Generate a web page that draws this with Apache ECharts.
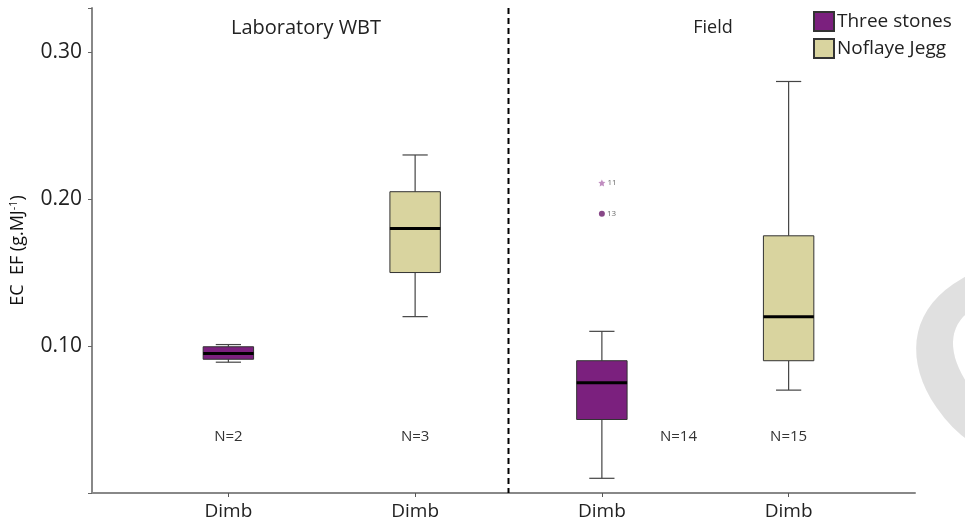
<!DOCTYPE html>
<html>
<head>
<meta charset="utf-8">
<script src="https://cdn.jsdelivr.net/npm/echarts@6/dist/echarts.min.js"></script>
<style>html,body{margin:0;padding:0;background:#fff}#c{width:965px;height:532px}</style>
</head>
<body>
<div id="c"></div>
<script>
// ---- data ----
const categories = ['Dimb', 'Dimb', 'Dimb', 'Dimb'];
const groupNames = ['Three stones', 'Noflaye Jegg'];
const panelTitles = ['Laboratory WBT', 'Field'];
// [categoryIndex, min, q1, median, q3, max]
const threeStonesBoxes = [
  [0, 0.089, 0.091, 0.095, 0.0995, 0.101],
  [2, 0.010, 0.050, 0.075, 0.090, 0.110]
];
const noflayeBoxes = [
  [1, 0.120, 0.150, 0.180, 0.205, 0.230],
  [3, 0.070, 0.090, 0.120, 0.175, 0.280]
];
// outliers: [categoryIndex, value]
const outlierValues = [[2, 0.211], [2, 0.190]];
const outlierIds = ['11', '13'];
const sampleSizes = [2, 3, 14, 15];
// divider between the two panels: between categories 1 and 2
const dividerBetween = [[1, 2]];

const COL_TS = '#7b207e';
const COL_NJ = '#d9d49f';
const FONT = '"Open Sans", sans-serif';

const chart = echarts.init(document.getElementById('c'), null, {renderer: 'canvas'});

function boxRenderer(color) {
  return function (params, api) {
    const x = api.value(0);
    const lo = api.coord([x, api.value(1)]);
    const q1 = api.coord([x, api.value(2)]);
    const med = api.coord([x, api.value(3)]);
    const q3 = api.coord([x, api.value(4)]);
    const hi = api.coord([x, api.value(5)]);
    const band = api.size([1, 0])[0];
    const bw = band * 0.27;
    const cw = bw * 0.5;
    const cx = lo[0];
    const wStyle = {stroke: '#444', lineWidth: 1.2};
    return {
      type: 'group',
      children: [
        {type: 'line', shape: {x1: cx, y1: hi[1], x2: cx, y2: q3[1]}, style: wStyle},
        {type: 'line', shape: {x1: cx, y1: q1[1], x2: cx, y2: lo[1]}, style: wStyle},
        {type: 'line', shape: {x1: cx - cw / 2, y1: hi[1], x2: cx + cw / 2, y2: hi[1]}, style: wStyle},
        {type: 'line', shape: {x1: cx - cw / 2, y1: lo[1], x2: cx + cw / 2, y2: lo[1]}, style: wStyle},
        {type: 'rect', shape: {x: cx - bw / 2, y: q3[1], width: bw, height: q1[1] - q3[1]},
          style: {fill: color, stroke: '#333', lineWidth: 1}},
        {type: 'line', shape: {x1: cx - bw / 2, y1: med[1], x2: cx + bw / 2, y2: med[1]},
          style: {stroke: '#000', lineWidth: 3}}
      ]
    };
  };
}

const allBoxes = threeStonesBoxes.concat(noflayeBoxes);
const labelY = 0.038;
const nData = sampleSizes.map((n, i) => {
  const b = allBoxes.find(d => d[0] === i);
  return [i, labelY, n, b[1] < labelY ? 1 : 0];
});

const option = {
  animation: false,
  textStyle: {fontFamily: FONT},
  legend: {
    data: groupNames,
    orient: 'vertical',
    left: 813, top: 11, padding: 0,
    itemWidth: 20, itemHeight: 19, itemGap: 6,
    icon: 'rect',
    textStyle: {fontSize: 19, color: '#222', fontFamily: FONT, padding: [0, 0, 0, -2]}
  },
  graphic: [
    {type: 'text', x: 306, y: 28, style: {text: panelTitles[0], font: '20px ' + FONT, fill: '#222', align: 'center', verticalAlign: 'middle'}},
    {type: 'text', x: 713, y: 28, style: {text: panelTitles[1], font: '18px ' + FONT, fill: '#222', align: 'center', verticalAlign: 'middle'}},
    {type: 'text', x: 1000, y: 385, rotation: 0.6, z: -10,
      style: {text: 'C', font: 'bold 250px ' + FONT, fill: '#e0e0e0', align: 'center', verticalAlign: 'middle'}},
    {type: 'rect', shape: {x: 820, y: 230, width: 96, height: 250}, style: {fill: '#fff'}, z: -9}
  ],
  grid: [
    {left: 135, right: 83, top: 8, bottom: 39},
    {left: 90, right: 50, top: 8, bottom: 39}
  ],
  xAxis: [
    {
      type: 'category', gridIndex: 0, data: categories,
      axisLine: {show: false},
      axisTick: {show: true, alignWithLabel: true, length: 4, lineStyle: {color: '#555'}},
      axisLabel: {fontSize: 19, color: '#222', margin: 9, fontFamily: FONT},
      splitLine: {show: false}
    },
    {
      type: 'value', gridIndex: 1, min: 0, max: 1,
      axisLine: {show: true, onZero: false, lineStyle: {color: '#888', width: 2}},
      axisTick: {show: false}, axisLabel: {show: false}, splitLine: {show: false}
    }
  ],
  yAxis: [
    {type: 'value', gridIndex: 0, min: 0, max: 0.33, show: false, splitLine: {show: false}},
    {
      type: 'value', gridIndex: 1, min: 0, max: 0.33, interval: 0.1,
      axisLine: {show: true, lineStyle: {color: '#888', width: 2}},
      axisTick: {show: true, length: 4, lineStyle: {color: '#666'}},
      splitLine: {show: false},
      axisLabel: {fontSize: 21, color: '#222', margin: 10, fontFamily: FONT,
        formatter: v => (v === 0 || v > 0.31) ? '' : v.toFixed(2)},
      name: '{n|EC  EF (g.MJ}{s|-1}{n|)}',
      nameLocation: 'middle', nameGap: 64,
      nameTextStyle: {rich: {
        n: {fontSize: 18, color: '#111', fontFamily: FONT},
        s: {fontSize: 11, color: '#111', fontFamily: FONT, verticalAlign: 'top', lineHeight: 20}
      }}
    }
  ],
  series: [
    {name: groupNames[0], type: 'custom', xAxisIndex: 0, yAxisIndex: 0,
      itemStyle: {color: COL_TS, borderColor: '#333', borderWidth: 1},
      renderItem: boxRenderer(COL_TS), data: threeStonesBoxes, encode: {x: 0, y: [1, 2, 3, 4, 5]}},
    {name: groupNames[1], type: 'custom', xAxisIndex: 0, yAxisIndex: 0,
      itemStyle: {color: COL_NJ, borderColor: '#333', borderWidth: 1},
      renderItem: boxRenderer(COL_NJ), data: noflayeBoxes, encode: {x: 0, y: [1, 2, 3, 4, 5]}},
    {name: 'divider', type: 'custom', xAxisIndex: 0, yAxisIndex: 0, data: dividerBetween,
      encode: {x: [0, 1]},
      renderItem: function (params, api) {
        const a = api.coord([api.value(0), 0]);
        const b = api.coord([api.value(1), 0]);
        const x = (a[0] + b[0]) / 2;
        const cs = params.coordSys;
        return {type: 'line', shape: {x1: x, y1: cs.y, x2: x, y2: cs.y + cs.height},
          style: {stroke: '#000', lineWidth: 2, lineDash: [6, 4]}};
      }},
    {name: 'outliers', type: 'scatter', xAxisIndex: 0, yAxisIndex: 0,
      data: outlierValues.map((d, i) => ({
        value: d,
        symbol: i === 0 ? 'path://M0,-10 L2.9,-4 L9.5,-3.1 L4.7,1.5 L5.9,8.1 L0,5 L-5.9,8.1 L-4.7,1.5 L-9.5,-3.1 L-2.9,-4 Z' : 'circle',
        symbolSize: i === 0 ? 7 : 6,
        itemStyle: {color: i === 0 ? '#b070b0' : '#6a1a6a'},
        label: {show: true, position: 'right', distance: 2, formatter: outlierIds[i], fontSize: 8, color: '#444'}
      }))},
    {name: 'N', type: 'custom', xAxisIndex: 0, yAxisIndex: 0, data: nData,
      renderItem: function (params, api) {
        const p = api.coord([api.value(0), api.value(1)]);
        const shift = api.value(3) ? api.size([1, 0])[0] * 0.41 : 0;
        return {type: 'text', x: p[0] + shift, y: p[1],
          style: {text: 'N=' + api.value(2), font: '15px ' + FONT, fill: '#333', align: 'center', verticalAlign: 'middle'}};
      }}
  ]
};
chart.setOption(option);
</script>
</body>
</html>
